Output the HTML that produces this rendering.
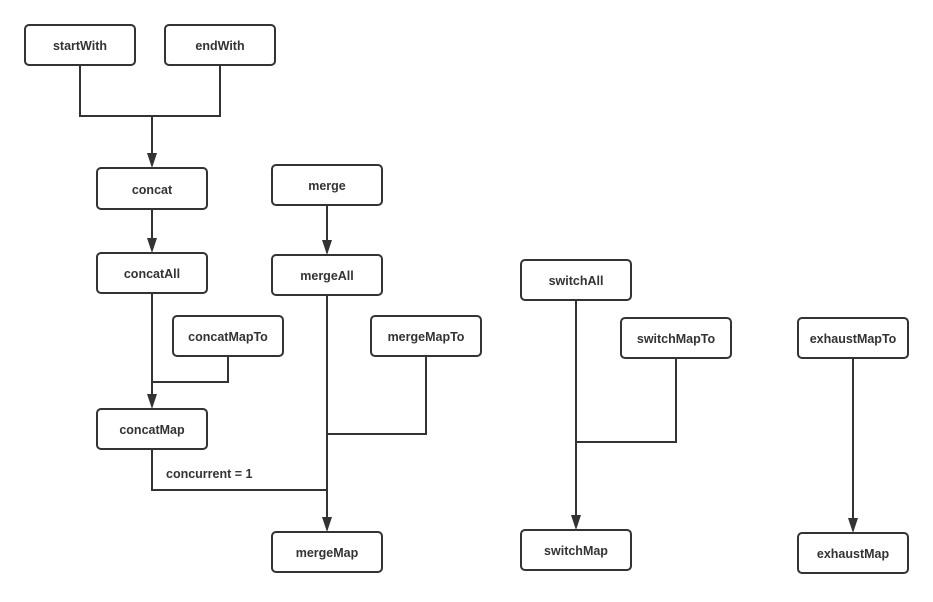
<!DOCTYPE html>
<html><head><style>
body{margin:0;background:#fff;width:933px;height:597px;overflow:hidden}
text{font-family:"Liberation Sans",sans-serif;font-size:12.5px;font-weight:bold;fill:#333}
</style></head><body>
<svg width="933" height="597" xmlns="http://www.w3.org/2000/svg">
<g fill="none" stroke="#333" stroke-width="2">
<path d="M80,65 V116 H220 V65"/>
<path d="M152,116 V158"/>
<path d="M152,209 V243"/>
<path d="M327,205 V245"/>
<path d="M152,293 V399"/>
<path d="M228,356 V382 H152"/>
<path d="M327,295 V522"/>
<path d="M426,356 V434 H327"/>
<path d="M152,449 V490 H327"/>
<path d="M576,300 V520"/>
<path d="M676,358 V442 H576"/>
<path d="M853,358 V523"/>
</g>
<g fill="#333">
<path d="M147,153 H157 L152,168 z"/>
<path d="M147,238 H157 L152,253 z"/>
<path d="M322,240 H332 L327,255 z"/>
<path d="M147,394 H157 L152,409 z"/>
<path d="M322,517 H332 L327,532 z"/>
<path d="M571,515 H581 L576,530 z"/>
<path d="M848,518 H858 L853,533 z"/>
</g>
<g fill="#fff" stroke="#333" stroke-width="2">
<rect x="25" y="25" width="110" height="40" rx="4"/>
<rect x="165" y="25" width="110" height="40" rx="4"/>
<rect x="97" y="168" width="110" height="41" rx="4"/>
<rect x="272" y="165" width="110" height="40" rx="4"/>
<rect x="97" y="253" width="110" height="40" rx="4"/>
<rect x="272" y="255" width="110" height="40" rx="4"/>
<rect x="173" y="316" width="110" height="40" rx="4"/>
<rect x="371" y="316" width="110" height="40" rx="4"/>
<rect x="97" y="409" width="110" height="40" rx="4"/>
<rect x="272" y="532" width="110" height="40" rx="4"/>
<rect x="521" y="260" width="110" height="40" rx="4"/>
<rect x="621" y="318" width="110" height="40" rx="4"/>
<rect x="521" y="530" width="110" height="40" rx="4"/>
<rect x="798" y="318" width="110" height="40" rx="4"/>
<rect x="798" y="533" width="110" height="40" rx="4"/>
</g>
<g text-anchor="middle">
<text x="80" y="50">startWith</text>
<text x="220" y="50">endWith</text>
<text x="152" y="194">concat</text>
<text x="327" y="190">merge</text>
<text x="152" y="278">concatAll</text>
<text x="327" y="280">mergeAll</text>
<text x="228" y="341">concatMapTo</text>
<text x="426" y="341">mergeMapTo</text>
<text x="152" y="434">concatMap</text>
<text x="327" y="557">mergeMap</text>
<text x="576" y="285">switchAll</text>
<text x="676" y="343">switchMapTo</text>
<text x="576" y="555">switchMap</text>
<text x="853" y="343">exhaustMapTo</text>
<text x="853" y="558">exhaustMap</text>
</g>
<text x="166" y="478">concurrent = 1</text>
</svg>
</body></html>
